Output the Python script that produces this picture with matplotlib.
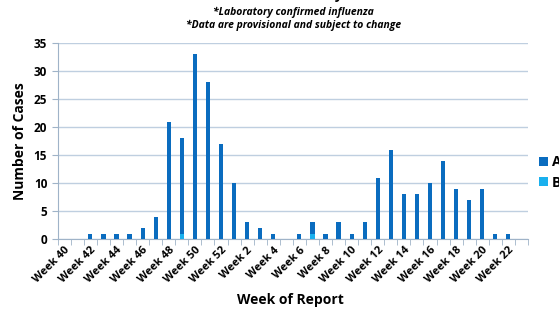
import numpy as np
import matplotlib.pyplot as plt

weeks = ["Week %d" % w for w in list(range(40, 53)) + list(range(1, 24))]
flu_a = [0, 0, 1, 1, 1, 1, 2, 4, 21, 17, 33, 28, 17,
         10, 3, 2, 1, 0, 1, 2, 1, 3, 1, 3, 11, 16, 8, 8, 10, 14, 9, 7, 9, 1, 1, 0]
flu_b = [0, 0, 0, 0, 0, 0, 0, 0, 0, 1, 0, 0, 0,
         0, 0, 0, 0, 0, 0, 1, 0, 0, 0, 0, 0, 0, 0, 0, 0, 0, 0, 0, 0, 0, 0, 0]

plt.rcParams['font.family'] = ['Open Sans', 'DejaVu Sans']

fig = plt.figure(figsize=(5.59, 3.09), dpi=100)
ax = fig.add_axes([0.1032, 0.2256, 0.8413, 0.6343])

x = np.arange(len(weeks))
grid_col = '#bfcfe0'
ax.bar(x, flu_b, width=0.32, color='#1ab0ee', label='B', zorder=3)
ax.bar(x, flu_a, width=0.32, bottom=flu_b, color='#0a6cbf', label='A', zorder=3)

ax.set_xlim(-0.5, len(weeks) - 0.5)
ax.set_ylim(0, 35)
ax.set_yticks(range(0, 36, 5))
ax.yaxis.grid(True, color=grid_col, linewidth=1)
ax.set_axisbelow(True)

ax.set_xticks(x[::2])
ax.set_xticklabels(weeks[::2], rotation=45, ha='right', rotation_mode='anchor',
                   fontsize=8, fontweight='bold')
ax.set_xticks(np.arange(-0.5, len(weeks)), minor=True)
ax.tick_params(axis='x', which='major', length=0, pad=4)
ax.tick_params(axis='x', which='minor', length=4, color='#9fb3c8')
ax.tick_params(axis='y', length=4, color='#9fb3c8', labelsize=8.5)
for lab in ax.get_yticklabels():
    lab.set_fontweight('bold')

for s in ['top', 'right']:
    ax.spines[s].set_visible(False)
for s in ['left', 'bottom']:
    ax.spines[s].set_color('#9fb3c8')

ax.set_ylabel('Number of Cases', fontsize=10, fontweight='bold', labelpad=5)
fig.text(0.52, 0.015, 'Week of Report', ha='center', fontsize=10, fontweight='bold')

fig.text(0.525, 1.015, 'October 2012 - May 2013', ha='center', va='center',
         fontsize=10, fontweight='bold')
fig.text(0.525, 0.96, '*Laboratory confirmed influenza', ha='center', va='center',
         fontsize=7.5, fontweight='bold', style='italic')
fig.text(0.525, 0.917, '*Data are provisional and subject to change', ha='center',
         va='center', fontsize=7.5, fontweight='bold', style='italic')

h, l = ax.get_legend_handles_labels()
leg = fig.legend(h[::-1], l[::-1], loc='center left', bbox_to_anchor=(0.965, 0.442),
                 frameon=False, fontsize=10, handlelength=0.6, handleheight=0.6,
                 handletextpad=0.3, labelspacing=0.45, borderaxespad=0, borderpad=0)
for t in leg.get_texts():
    t.set_fontweight('bold')

fig.savefig('out.png', dpi=100)
